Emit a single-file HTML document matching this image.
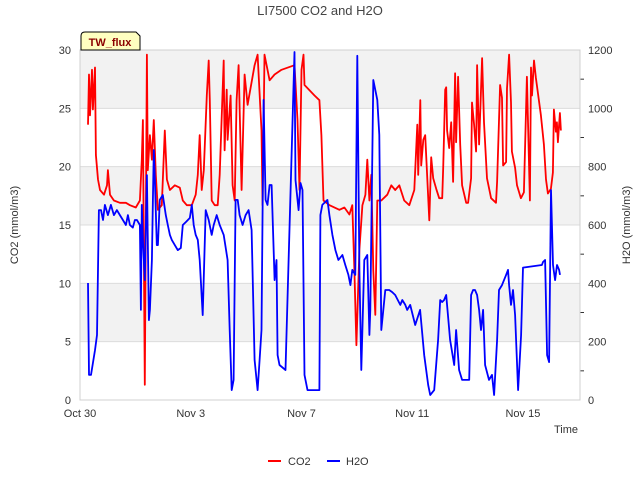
<!DOCTYPE html>
<html><head><meta charset="utf-8"><style>
body{margin:0;background:#fff;}
text{font-family:"Liberation Sans","DejaVu Sans",sans-serif;}
</style></head><body>
<svg id="chart" width="640" height="480">
<g id="bg"></g>
<g id="grid"></g>
<g id="series"></g>
<g id="axes"></g>
<text x="320" y="15" text-anchor="middle" font-size="13" fill="#444">LI7500 CO2 and H2O</text>
<text transform="translate(18,225) rotate(-90)" text-anchor="middle" font-size="11" fill="#333">CO2 (mmol/m3)</text>
<text transform="translate(630,225) rotate(-90)" text-anchor="middle" font-size="11" fill="#333">H2O (mmol/m3)</text>
<text x="578" y="433" text-anchor="end" font-size="11" fill="#333">Time</text>
<g>
<path d="M81,50 L81,36 Q81,32 85,32 L136,32 L140,36 L140,50 Z" fill="#ffffc0" stroke="#000" stroke-width="1"/>
<text x="110" y="46" text-anchor="middle" font-size="11" font-weight="bold" fill="#8b0000">TW_flux</text>
</g>
<g>
<g><line x1="268" y1="461" x2="281" y2="461" stroke="#f00" stroke-width="2"/><text x="288" y="465" font-size="11" fill="#333">CO2</text></g>
<g><line x1="327" y1="461" x2="340" y2="461" stroke="#00f" stroke-width="2"/><text x="346" y="465" font-size="11" fill="#333">H2O</text></g>
</g>
</svg>
<script>
const xTickLabels=["Oct 30","Nov 3","Nov 7","Nov 11","Nov 15"];
const xTickHours=[0,96,192,288,384];
const leftTicks=[0,5,10,15,20,25,30];
const rightTicks=[0,200,400,600,800,1000,1200];
const co2Hours=[6.9,7.8,8.7,10.4,11.2,13,13.8,15.6,17.3,20.8,
23.4,24.2,26,29.4,34.6,39.8,43.3,48.4,51.9,53.6,
54.5,56.2,58,58.8,60.6,62.3,64,65.7,67.5,70.9,
73.5,75.3,77.9,82.2,86.5,89.1,92.6,96.9,100.3,102.1,
103.8,105.5,107.3,109.9,111.6,112.5,114.2,116.8,119.4,121.1,
122.8,124.6,125.4,127.2,128,130.6,132.3,134.1,135.8,137.5,
140.1,142.7,145.3,151.4,154,157.4,158.3,160,164.4,168.7,
174.7,186,188.6,190.3,192,193.8,194.6,203.3,207.6,209.3,
211.1,216.3,224.9,229.2,233.6,236.1,237.9,239.6,242.2,244.8,
247.4,249.1,250.9,252.6,254.3,256,257.8,261.2,266.4,269.9,
273.3,276.8,281.1,285.5,289.8,292.4,293.2,295,295.8,297.6,
299.3,302.8,304.5,306.2,308.8,311.4,314,314.9,316.6,317.5,
318.3,320.1,321.8,323.5,325.2,326.1,327.8,329.6,331.3,334.8,
336.5,339.1,339.9,341.7,343.4,344.3,346,348.6,350.3,352.9,
356.4,360.7,361.6,364.2,365.9,366.8,369.4,370.2,372,373.7,
374.5,377.2,378.9,382.3,384.9,387.5,390.1,391,391.9,393.6,
395.3,399.6,402.2,404,405.7,408.3,410,410.9,412.6,413.5,
414.3,416.1,416.9];
const co2Vals=[23.6,27.9,24.4,28.3,24.9,28.5,21,18.9,18,17.6,
18.4,19.7,17.6,17.1,16.9,16.9,16.7,16.5,17.1,20.6,
24,1.3,29.6,19.7,22.7,20.6,24,19.3,16.3,16.7,
23.1,18.9,18,18.4,18.2,17.1,16.7,16.7,17.6,19.3,
22.7,18,19.7,26.1,29.1,25.7,17.1,16.7,16.7,19.3,
24,29.1,21.4,26.6,22.3,26.1,18.4,17.1,25.7,28.7,
18,27.9,25.3,28.7,29.6,23.1,16.7,29.6,27.4,27.9,
28.3,28.7,24,18,28.3,29.6,27,26.1,25.7,22.7,
17.1,16.7,16.3,16.5,15.9,16.7,11.1,4.7,12.9,16.7,
17.6,20.6,17.1,19.3,11.1,7.3,17.1,17.1,17.6,18.4,
18,18.4,17.1,16.7,18,23.6,19.3,25.7,20.1,22.3,
22.7,15.4,20.8,19,18.1,17.3,17.3,19.9,26.6,26.8,
23.1,21.6,23.8,18.7,28,22.1,27.7,21.9,18.4,16.9,
16.9,19,25.5,23.6,21.3,28.7,21.9,29.3,23.8,19,
17.3,16.9,18.7,27,25.9,20.1,20.4,26.7,29.6,25.5,
21.3,19.9,18.4,17.3,17.8,27.7,17.1,28.5,26.1,29.1,
27.6,24.4,21.9,18.9,17.7,18.1,19.5,24.9,23,23.8,
22.1,24.6,23.1];
const h2oHours=[6.9,7.8,9.5,13,14.7,16.4,18.2,19.9,21.6,24.2,26.8,29.4,32,34.6,37.2,39.8,41.5,43.3,45.8,47.6,49.3,51.9,52.8,53.6,54.5,56.2,58,59.7,60.6,62.3,63.2,64,64.9,66.6,67.5,69.2,71.8,74.4,76.1,77.9,79.6,82.2,84.8,87.4,89.1,91.7,95.2,96.9,98.6,100.3,102.1,103.8,106.4,109,111.6,114.2,115.9,118.5,121.1,124.6,128,129.8,131.5,133.2,134.9,136.7,138.4,141,143.6,146.2,148.8,151.4,154,155.7,157.4,159.2,160.9,162.6,164.4,166.1,168.7,170.4,171.3,173,178.2,186,186.8,189.5,191.2,192.9,194.6,197.2,198.9,207.6,208.4,210.1,214.5,216.2,218.8,221.4,224,227.5,230,232.7,234.4,236.1,238.7,240.4,242.2,243.9,246.5,249.1,250.9,251.7,254.3,257.8,259.5,261.2,264.7,268.1,270.7,273.3,277.7,279.4,282,283.7,286.3,290.6,294.9,298.4,301.9,303.6,307.1,310.5,312.3,314,315.7,317.5,320.9,324.4,326.1,328.7,331.3,337.4,339.1,340.8,342.5,344.3,346,347.7,349.5,351.2,354.6,357.2,359,361.6,363.3,365.9,369.4,371.1,372,373.7,375.4,377.2,379.8,382.4,384.1,400.5,401.4,403.2,405,406.7,408.4,410.1,411.9,413.6,415.4,416.2];
const h2oVals=[401,86,86,171,223,651,651,617,669,634,669,634,651,634,617,600,634,600,591,617,617,600,309,669,549,411,771,274,309,480,686,857,754,531,531,686,703,634,600,566,549,531,514,521,600,610,624,669,600,566,549,480,291,651,617,566,600,634,600,566,480,240,34,69,686,686,634,600,634,651,583,137,34,137,240,1029,686,669,737,737,411,480,154,120,103,1193,754,651,744,720,86,34,34,34,634,669,686,634,566,514,480,497,463,429,394,446,429,1180,446,103,480,497,223,309,1097,1029,909,240,377,377,370,360,326,343,326,309,326,257,309,154,51,17,34,206,343,336,343,360,206,120,240,103,69,69,360,377,377,360,309,240,309,120,69,86,17,206,377,394,429,446,394,326,377,291,34,223,454,463,473,480,154,130,720,463,411,463,446,429,377,334,429];
const X0=80,X1=580,Y0=400,Y1=50,HMAX=433.5;
const sx=h=>X0+(h/HMAX)*(X1-X0);
const syL=v=>Y0-(v/30)*(Y0-Y1);
const syR=v=>Y0-(v/1200)*(Y0-Y1);
const NS="http://www.w3.org/2000/svg";
function mk(tag,attrs,parent){const e=document.createElementNS(NS,tag);for(const k in attrs)e.setAttribute(k,attrs[k]);document.getElementById(parent).appendChild(e);return e;}
[[25,30],[15,20],[5,10]].forEach(b=>{
const r=mk('rect',{x:X0,y:syL(b[1]),width:X1-X0,height:syL(b[0])-syL(b[1]),fill:'#f2f2f2'},'bg');


});
leftTicks.forEach(v=>{
const l=mk('line',{x1:X0,x2:X1,y1:syL(v),y2:syL(v),stroke:'#dcdcdc','stroke-width':1},'grid');


const t=mk('text',{x:X0-9,y:syL(v)+4,'text-anchor':'end','font-size':11,fill:'#333'},'axes');
t.textContent=v;


});
rightTicks.forEach(v=>{
const t=mk('text',{x:X1+8,y:syR(v)+4,'font-size':11,fill:'#333'},'axes');
t.textContent=v;


});
for(let v=100;v<1200;v+=200){
const l=mk('line',{x1:X1,x2:X1+4,y1:syR(v),y2:syR(v),stroke:'#333'},'axes');


}
xTickHours.forEach((h,i)=>{
const t=mk('text',{x:sx(h),y:Y0+17,'text-anchor':'middle','font-size':11,fill:'#333'},'axes');
t.textContent=xTickLabels[i];


});
const fr=mk('rect',{x:X0,y:Y1,width:X1-X0,height:Y0-Y1,fill:'none',stroke:'#d0d0d0'},'axes');


function path(xs,ys,f){return xs.map((h,i)=>(i?'L':'M')+sx(h).toFixed(1)+','+f(ys[i]).toFixed(1)).join('');}
const pc=mk('path',{d:path(co2Hours,co2Vals,syL),fill:'none',stroke:'#f00','stroke-width':1.8,'stroke-linejoin':'round'},'series');


const ph=mk('path',{d:path(h2oHours,h2oVals,syR),fill:'none',stroke:'#00f','stroke-width':1.8,'stroke-linejoin':'round'},'series');


</script>
</body></html>
